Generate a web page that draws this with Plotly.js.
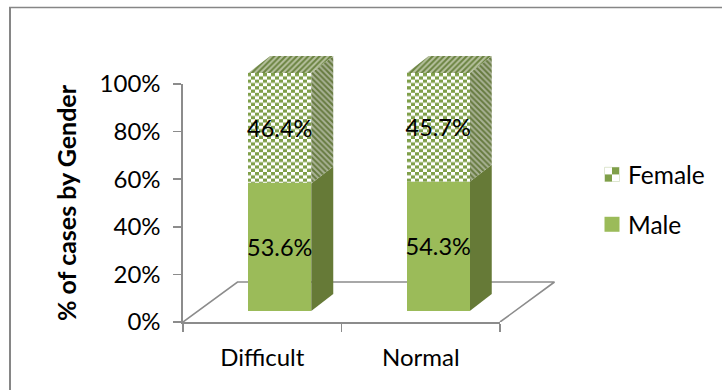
<!DOCTYPE html>
<html>
<head>
<meta charset="utf-8">
<script src="https://cdn.plot.ly/plotly-3.0.1.min.js"></script>
<style>html,body{margin:0;padding:0;background:#fff}#chart{width:722px;height:390px}</style>
</head>
<body>
<div id="chart"></div>
<script>
// Share of cases by gender for each delivery category
const categories = ['Difficult', 'Normal'];
const maleValues = [53.6, 54.3];
const femaleValues = [46.4, 45.7];
const valueTicks = [0, 20, 40, 60, 80, 100];
const valueTickLabels = ['0%', '20%', '40%', '60%', '80%', '100%'];

const W = 722, H = 390;
const FONT = 'Lato, Carlito, sans-serif';
const GRID = '#8c8c8c';
const MALE = '#9bbb59', MALE_SIDE = '#667a37';
const FEMALE = '#7f9f49';

// Plot geometry in pixels
const axisLeft = 183, axisRight = 500, axisBottom = 322, axisTop = 84;
const slotPx = (axisRight - axisLeft) / 2;      // width of one category
const unitPx = (axisBottom - axisTop) / 100;    // height of one percentage point
const liftX = 17.5 / slotPx, liftY = 11 / unitPx; // front face offset from the axis plane
const depthX = 22 / slotPx, depthY = 17 / unitPx; // extrusion of each column
const floorX = 54.5 / slotPx, floorY = 40 / unitPx; // extrusion of the floor
const barWidth = 63 / slotPx;

const px = v => v / W, py = v => 1 - v / H;
const extentRight = 700, extentTop = 40;

const centres = categories.map((_, i) => i + liftX);
const checker = {shape: '.', fgcolor: FEMALE, bgcolor: '#ffffff', size: 6, solidity: 0.6};
const traces = [];

// Floor outline behind the columns
traces.push({
  type: 'scatter', mode: 'lines', xaxis: 'x2', yaxis: 'y2', showlegend: false, hoverinfo: 'skip',
  x: [-0.5, -0.5 + floorX, 1.5 + floorX, 1.5],
  y: [-liftY, -liftY + floorY, -liftY + floorY, -liftY],
  line: {color: GRID, width: 1.6}
});

// Side and top faces derived from each column's values
categories.forEach((_, i) => {
  const r = centres[i] + barWidth / 2, l = centres[i] - barWidth / 2;
  const split = maleValues[i], top = maleValues[i] + femaleValues[i];
  traces.push({
    type: 'scatter', mode: 'lines', xaxis: 'x2', yaxis: 'y2', showlegend: false, hoverinfo: 'skip',
    x: [r, r + depthX, r + depthX, r, r], y: [0, depthY, split + depthY, split, 0],
    fill: 'toself', fillcolor: MALE_SIDE, line: {width: 0}
  });
  traces.push({
    type: 'scatter', mode: 'lines', xaxis: 'x2', yaxis: 'y2', showlegend: false, hoverinfo: 'skip',
    x: [r, r + depthX, r + depthX, r, r], y: [split, split + depthY, top + depthY, top, split],
    fill: 'toself', fillcolor: '#8d9c6c', line: {width: 0},
    fillpattern: {shape: '\\', fgcolor: '#667a3f', bgcolor: '#a9b295', size: 4, solidity: 0.5}
  });
  traces.push({
    type: 'scatter', mode: 'lines', xaxis: 'x2', yaxis: 'y2', showlegend: false, hoverinfo: 'skip',
    x: [l, r, r + depthX, l + depthX, l], y: [top, top, top + depthY, top + depthY, top],
    fill: 'toself', fillcolor: '#8d9c6c', line: {width: 0},
    fillpattern: {shape: '/', fgcolor: '#6a8340', bgcolor: '#b8c2a0', size: 4, solidity: 0.5}
  });
});

// Front faces sit on their own subplot above the side faces, so labels stay readable
traces.push({
  type: 'bar', name: 'Male', legendgroup: 'm', legendrank: 2, x: centres, y: maleValues, width: barWidth,
  xaxis: 'x3', yaxis: 'y3', marker: {color: MALE, line: {width: 0}},
  text: maleValues.map(v => v.toFixed(1) + '%'), textposition: 'inside', insidetextanchor: 'middle',
  textangle: 0, constraintext: 'none', cliponaxis: false,
  insidetextfont: {family: FONT, size: 23.5, color: '#000'}, hoverinfo: 'skip'
});
traces.push({
  type: 'bar', name: 'Female', legendgroup: 'f', legendrank: 1, x: centres, y: femaleValues, width: barWidth,
  xaxis: 'x3', yaxis: 'y3', marker: {color: '#ffffff', line: {width: 0}, pattern: checker},
  text: femaleValues.map(v => v.toFixed(1) + '%'), textposition: 'inside', insidetextanchor: 'middle',
  textangle: 0, constraintext: 'none', cliponaxis: false,
  insidetextfont: {family: FONT, size: 23.5, color: '#000'}, hoverinfo: 'skip'
});

// Invisible trace on the category axis so the slots and their labels are laid out
traces.push({
  type: 'scatter', mode: 'markers', x: categories, y: [0, 0], showlegend: false,
  marker: {opacity: 0}, hoverinfo: 'skip'
});

// Hidden linear axes share the plot's pixel scale but start at the column base
const hiddenX = {
  range: [-0.5, -0.5 + (extentRight - axisLeft) / slotPx],
  domain: [px(axisLeft), px(extentRight)], visible: false, fixedrange: true
};
const hiddenY = {
  range: [-liftY, -liftY + (axisBottom - extentTop) / unitPx],
  domain: [py(axisBottom), py(extentTop)], visible: false, fixedrange: true
};

const layout = {
  width: W, height: H, margin: {l: 0, r: 0, t: 0, b: 0, pad: 0},
  paper_bgcolor: '#fff', plot_bgcolor: 'rgba(0,0,0,0)',
  barmode: 'stack', showlegend: true,
  font: {family: FONT, color: '#000'},
  xaxis: {
    type: 'category', categoryorder: 'array', categoryarray: categories, tickson: 'boundaries',
    range: [-0.5, 1.5], domain: [px(axisLeft), px(axisRight)], anchor: 'y', fixedrange: true,
    showline: true, linecolor: GRID, linewidth: 1.6, ticks: 'outside', ticklen: 8, tickwidth: 1.6,
    tickcolor: GRID, showgrid: false, zeroline: false, tickfont: {family: FONT, size: 24}, ticklabelstandoff: 14
  },
  yaxis: {
    range: [0, 100], domain: [py(axisBottom), py(axisTop)], anchor: 'x', fixedrange: true,
    tickvals: valueTicks, ticktext: valueTickLabels,
    showline: true, linecolor: GRID, linewidth: 1.6, ticks: 'outside', ticklen: 8, tickwidth: 1.6,
    tickcolor: GRID, showgrid: false, zeroline: false, tickfont: {family: FONT, size: 24}, ticklabelstandoff: 8,
    title: {text: '<b>% of cases by Gender</b>', font: {family: FONT, size: 25}, standoff: 16}
  },
  xaxis2: Object.assign({anchor: 'y2'}, hiddenX),
  yaxis2: Object.assign({anchor: 'x2'}, hiddenY),
  xaxis3: Object.assign({anchor: 'y3'}, hiddenX),
  yaxis3: Object.assign({anchor: 'x3'}, hiddenY),
  legend: {
    x: 588 / W, xanchor: 'left', y: py(152), yanchor: 'top', traceorder: 'grouped',
    tracegroupgap: 15, font: {family: FONT, size: 24.5}, bgcolor: 'rgba(0,0,0,0)', itemclick: false, itemdoubleclick: false
  },
  shapes: [
    {type: 'line', xref: 'paper', yref: 'paper', x0: px(9), x1: 1, y0: py(7.5), y1: py(7.5), line: {color: '#868686', width: 1.5}},
    {type: 'line', xref: 'paper', yref: 'paper', x0: px(10), x1: px(10), y0: py(7), y1: 0, line: {color: '#868686', width: 2}}
  ]
};

const SVG_NS = 'http://www.w3.org/2000/svg';

// Fills a pattern element with a two-cell checkerboard of the given cell period
function fillChecker(pattern, periodX, periodY, flip) {
  pattern.textContent = '';
  pattern.setAttribute('patternUnits', 'userSpaceOnUse');
  pattern.setAttribute('width', periodX);
  pattern.setAttribute('height', periodY);
  const cellX = periodX / 2, cellY = periodY / 2;
  const bg = document.createElementNS(SVG_NS, 'rect');
  bg.setAttribute('width', periodX); bg.setAttribute('height', periodY); bg.setAttribute('fill', '#ffffff');
  pattern.appendChild(bg);
  (flip ? [[cellX, 0], [0, cellY]] : [[0, 0], [cellX, cellY]]).forEach(([x, y]) => {
    const r = document.createElementNS(SVG_NS, 'rect');
    r.setAttribute('x', x); r.setAttribute('y', y);
    r.setAttribute('width', cellX); r.setAttribute('height', cellY);
    r.setAttribute('fill', FEMALE);
    pattern.appendChild(r);
  });
}

Plotly.newPlot('chart', traces, layout, {displayModeBar: false, staticPlot: true}).then(gd => {
  gd.querySelectorAll('defs pattern').forEach(pat => {
    if (pat.querySelector('circle')) fillChecker(pat, 8, 6.6, false);
  });
  const swatchPattern = document.createElementNS(SVG_NS, 'pattern');
  swatchPattern.id = 'femaleSwatch';
  fillChecker(swatchPattern, 12, 12, true);
  gd.querySelector('defs').appendChild(swatchPattern);
  gd.querySelectorAll('.legendpoints path').forEach(p => {
    if ((p.getAttribute('style') || '').includes('url(')) p.style.fill = 'url(#femaleSwatch)';
    // Larger swatches, nudged closer to their labels
    p.setAttribute('transform', 'translate(24,0) scale(1.25)');
  });
});
</script>
</body>
</html>
